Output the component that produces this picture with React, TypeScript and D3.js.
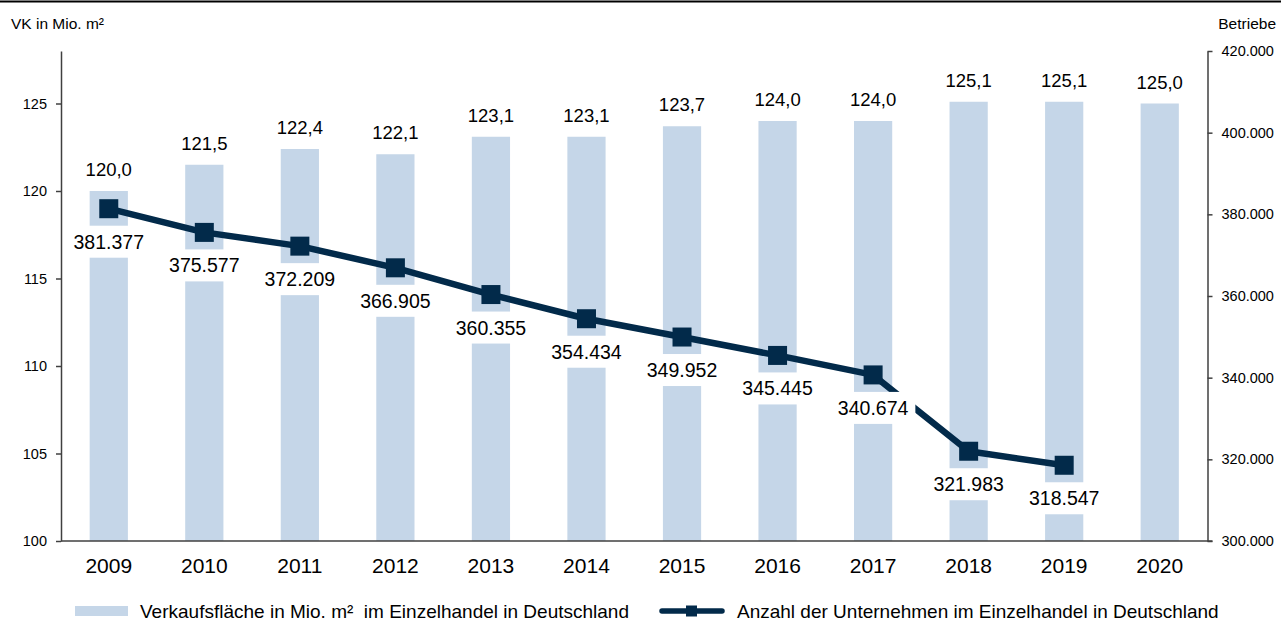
import React, { Component } from "react";
import * as d3 from "d3";

// chart data
const years = ["2009", "2010", "2011", "2012", "2013", "2014", "2015", "2016", "2017", "2018", "2019", "2020"];
const flaeche = [120.0, 121.5, 122.4, 122.1, 123.1, 123.1, 123.7, 124.0, 124.0, 125.1, 125.1, 125.0];
const betriebe = [381377, 375577, 372209, 366905, 360355, 354434, 349952, 345445, 340674, 321983, 318547];
const leftTicks = [100, 105, 110, 115, 120, 125];
const rightTicks = [300000, 320000, 340000, 360000, 380000, 400000, 420000];

const barLegend = "Verkaufsfläche in Mio. m²  im Einzelhandel in Deutschland";
const lineLegend = "Anzahl der Unternehmen im Einzelhandel in Deutschland";

const BAR_COLOR = "#c5d6e8";
const LINE_COLOR = "#022a4a";
const AXIS_COLOR = "#404040";
const FONT = "'Liberation Sans', Arial, sans-serif";

const de = d3.formatLocale({ decimal: ",", thousands: ".", grouping: [3], currency: ["", " €"] });
const fmt1 = de.format(".1f");
const fmtInt = de.format(",d");

class App extends Component {
  svgRef = React.createRef<SVGSVGElement>();

  componentDidMount() {
    this.renderChart();
  }

  componentDidUpdate() {
    this.renderChart();
  }

  renderChart() {
    const W = 1281;
    const left = 61, right = 1207.5, top = 51, bottom = 541;

    const svg = d3.select(this.svgRef.current);
    svg.selectAll("*").remove();
    svg.style("font-family", FONT);

    // top rule
    svg.append("rect").attr("x", 0).attr("y", 0.5).attr("width", W).attr("height", 2).attr("fill", "#000");

    const x = d3.scaleBand().domain(years).range([left, right]).paddingInner(0.6).paddingOuter(0.3);
    const yL = d3.scaleLinear().domain([100, 128]).range([bottom, top]);
    const yR = d3.scaleLinear().domain([300000, 420000]).range([bottom, top]);

    // bars
    svg.append("g")
      .selectAll("rect")
      .data(flaeche)
      .join("rect")
      .attr("x", (d, i) => x(years[i]) as number)
      .attr("y", d => yL(d))
      .attr("width", x.bandwidth())
      .attr("height", d => bottom - yL(d))
      .attr("fill", BAR_COLOR);

    // bar value labels
    svg.append("g")
      .selectAll("text")
      .data(flaeche)
      .join("text")
      .attr("x", (d, i) => (x(years[i]) as number) + x.bandwidth() / 2)
      .attr("y", d => yL(d) - 15)
      .attr("text-anchor", "middle")
      .style("font-size", "18.5px")
      .text(d => fmt1(d));

    // axes
    const axL = svg.append("g")
      .attr("transform", `translate(${left},0)`)
      .call(d3.axisLeft(yL).tickValues(leftTicks).tickSize(5).tickSizeOuter(0).tickPadding(9).tickFormat(d => String(d)));
    const axR = svg.append("g")
      .attr("transform", `translate(${right},0)`)
      .call(d3.axisRight(yR).tickValues(rightTicks).tickSize(5).tickSizeOuter(0).tickPadding(9).tickFormat(d => fmtInt(d as number)));
    [axL, axR].forEach(ax => {
      ax.select(".domain").attr("stroke", AXIS_COLOR).attr("stroke-width", 1.5);
      ax.selectAll(".tick line").attr("stroke", AXIS_COLOR).attr("stroke-width", 1.5);
      ax.selectAll(".tick text").attr("fill", "#000").style("font-size", "14.5px").style("font-family", FONT);
    });

    // bottom axis line
    svg.append("line")
      .attr("x1", left).attr("x2", right + 5)
      .attr("y1", bottom).attr("y2", bottom)
      .attr("stroke", AXIS_COLOR).attr("stroke-width", 1.5);

    // year labels
    svg.append("g")
      .selectAll("text")
      .data(years)
      .join("text")
      .attr("x", d => (x(d) as number) + x.bandwidth() / 2)
      .attr("y", 572.5)
      .attr("text-anchor", "middle")
      .style("font-size", "21px")
      .text(d => d);

    // axis titles
    svg.append("text").attr("x", 11).attr("y", 28.5).style("font-size", "15.5px").text("VK in Mio. m²");
    svg.append("text").attr("x", 1276).attr("y", 28.5).attr("text-anchor", "end").style("font-size", "15.5px").text("Betriebe");

    // line
    const cx = (i: number) => (x(years[i]) as number) + x.bandwidth() / 2;
    const line = d3.line<number>().x((d, i) => cx(i)).y(d => yR(d));
    svg.append("path")
      .datum(betriebe)
      .attr("d", line)
      .attr("fill", "none")
      .attr("stroke", LINE_COLOR)
      .attr("stroke-width", 6.5)
      .attr("stroke-linejoin", "round");

    // line value labels with white boxes
    const lbl = svg.append("g");
    betriebe.forEach((d, i) => {
      const g = lbl.append("g");
      const rect = g.append("rect").attr("fill", "#fff");
      const t = g.append("text")
        .attr("x", cx(i))
        .attr("y", yR(d) + 40)
        .attr("text-anchor", "middle")
        .style("font-size", "19.5px")
        .text(fmtInt(d));
      const tw = (t.node() as SVGTextElement).getComputedTextLength();
      rect.attr("x", cx(i) - tw / 2 - 7)
        .attr("y", yR(d) + 17)
        .attr("width", tw + 14)
        .attr("height", 32);
    });

    // markers
    svg.append("g")
      .selectAll("rect")
      .data(betriebe)
      .join("rect")
      .attr("x", (d, i) => cx(i) - 9.5)
      .attr("y", d => yR(d) - 9.5)
      .attr("width", 19)
      .attr("height", 19)
      .attr("fill", LINE_COLOR);

    // legend
    const ly = 611;
    svg.append("rect").attr("x", 75).attr("y", ly - 5).attr("width", 53).attr("height", 10).attr("fill", BAR_COLOR);
    svg.append("text").attr("x", 140).attr("y", ly + 7).style("font-size", "19px").style("white-space", "pre").text(barLegend);
    svg.append("line")
      .attr("x1", 662).attr("x2", 722).attr("y1", ly).attr("y2", ly)
      .attr("stroke", LINE_COLOR).attr("stroke-width", 5.5).attr("stroke-linecap", "round");
    svg.append("rect").attr("x", 686).attr("y", ly - 5.5).attr("width", 11).attr("height", 11).attr("fill", LINE_COLOR);
    svg.append("text").attr("x", 737).attr("y", ly + 7).style("font-size", "19px").text(lineLegend);
  }

  render() {
    return (
      <svg
        ref={this.svgRef}
        width={1281}
        height={621}
        style={{ position: "absolute", left: 0, top: 0, display: "block", background: "#fff" }}
      />
    );
  }
}

export default App;
